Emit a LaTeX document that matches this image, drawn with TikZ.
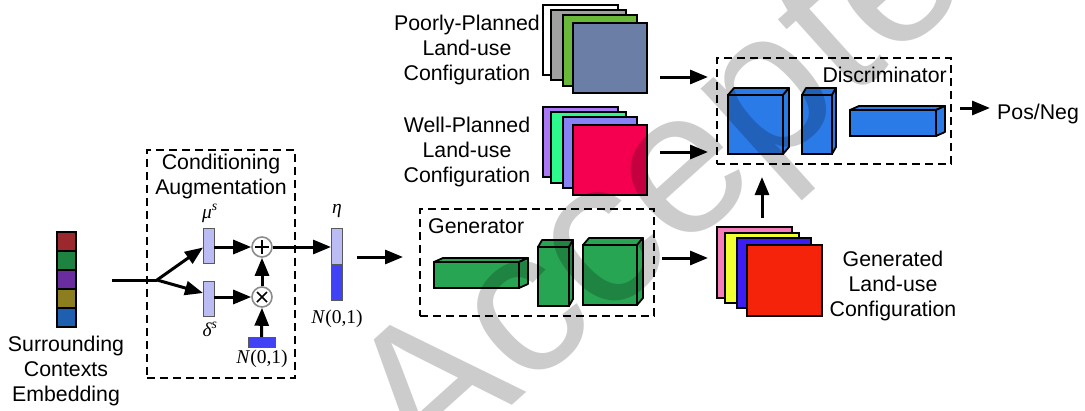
\documentclass[tikz,border=0pt]{standalone}
\usepackage{fontspec}
\setmainfont{Liberation Sans}
\newfontfamily\serifit{Liberation Serif}
\usetikzlibrary{arrows.meta}
\definecolor{eR}{HTML}{9B282D}
\definecolor{eG}{HTML}{1E8241}
\definecolor{eP}{HTML}{692DA0}
\definecolor{eO}{HTML}{8C7D1E}
\definecolor{eB}{HTML}{1E5FAF}
\definecolor{lav}{HTML}{BCBCF4}
\definecolor{nblue}{HTML}{4141F5}
\definecolor{pGray}{HTML}{A0A0A0}
\definecolor{pGreen}{HTML}{6AB83A}
\definecolor{pSlate}{HTML}{6B7EA6}
\definecolor{wPurple}{HTML}{AA78F5}
\definecolor{wGreen}{HTML}{2DFA8C}
\definecolor{wPeri}{HTML}{8782F5}
\definecolor{wRed}{HTML}{F50050}
\definecolor{gPink}{HTML}{F57DB9}
\definecolor{gYellow}{HTML}{F0FF32}
\definecolor{gBlue}{HTML}{3C1EF5}
\definecolor{gRed}{HTML}{F5230A}
\definecolor{genG}{HTML}{27A552}
\definecolor{disB}{HTML}{2A7AE8}
\newcommand\rectnode[6]{\node[#6, rectangle, inner sep=0pt, outer sep=0pt, minimum width={(#4-#2)*1pt}, minimum height={(#5-#3)*1pt}] (#1) at ({(#2+#4)/2},{(#3+#5)/2}) {};}
\newcommand\cuboidnode[8]{%
  \rectnode{#1}{#2}{#3}{#4}{#5}{draw, line width=1.8pt, fill=#8}
  \draw[line width=1.8pt, fill=#8, line join=round] (#1.north west) -- ++(#6,#7) -- ([shift={(#6,#7)}]#1.north east) -- (#1.north east) -- cycle;
  \draw[line width=1.8pt, fill=#8, line join=round] (#1.north east) -- ++(#6,#7) -- ([shift={(#6,#7)}]#1.south east) -- (#1.south east) -- cycle;}
\begin{document}
\begin{tikzpicture}[x=1pt,y=-1pt,
  lbl/.style={font=\fontsize{21.3}{25}\selectfont, align=center, inner sep=0pt},
  mth/.style={font=\fontsize{19.5}{22}\selectfont\serifit\itshape, inner sep=0pt},
  arr/.style={line width=3pt, -{Triangle[length=18pt,width=14pt]}},
  dbox/.style={draw, line width=1.8pt, dash pattern=on 8pt off 5pt},
  sqr/.style={draw, line width=1.8pt},
  thinbar/.style={draw=black!65, line width=1pt},
  op/.style={circle, draw=black!45, fill=white, line width=1.6pt, minimum size=20pt, inner sep=0pt}]
\useasboundingbox (0,0) rectangle (1085,410);
\clip (0,0) rectangle (1085,410);
\fill[white] (0,0) rectangle (1085,410);

% embedding column
\rectnode{e1}{57}{232}{76}{251}{draw, line width=1.5pt, fill=eR}
\rectnode{e2}{57}{251}{76}{270}{draw, line width=1.5pt, fill=eG}
\rectnode{e3}{57}{270}{76}{289}{draw, line width=1.5pt, fill=eP}
\rectnode{e4}{57}{289}{76}{308}{draw, line width=1.5pt, fill=eO}
\rectnode{e5}{57}{308}{76}{327}{draw, line width=1.5pt, fill=eB}
\node[lbl, anchor=north] (emb) at (66,335.5) {Surrounding\\Contexts\\Embedding};

% conditioning augmentation
\rectnode{ca}{147}{150}{295}{378}{dbox}
\node[lbl, anchor=north] (catxt) at (221,153.8) {Conditioning\\Augmentation};
\rectnode{mu}{203}{228}{214}{263}{thinbar, fill=lav}
\rectnode{de}{203}{281}{214}{316}{thinbar, fill=lav}
\node[mth, anchor=base] (mulbl) at (210,218) {μ\textsuperscript{s}};
\node[mth, anchor=base] (delbl) at (210,336) {δ\textsuperscript{s}};
\node[op] (plus) at (262,247) {};
\node[op] (times) at (262,297) {};
\draw[line width=1.6pt] ([xshift=-7pt]plus.center) -- ([xshift=7pt]plus.center) ([yshift=-7pt]plus.center) -- ([yshift=7pt]plus.center);
\draw[line width=1.6pt] ([shift={(-5,-5)}]times.center) -- ([shift={(5,5)}]times.center) ([shift={(-5,5)}]times.center) -- ([shift={(5,-5)}]times.center);
\rectnode{nb}{248}{337}{275}{347}{thinbar, fill=nblue}
\node[mth, anchor=base] (nlbl) at (262,363) {N\textup{(0,1)}};

\coordinate (in) at (112,280);
\coordinate (br) at (157,280);
\draw[line width=3pt] (in) -- (br);
\draw[arr] (br) -- ([yshift=-2pt]mu.west);
\draw[arr] (br) -- ([yshift=5.5pt]de.west);
\draw[arr] (mu.east |- plus.west) -- (plus.west);
\draw[arr] (de.east |- times.west) -- (times.west);
\draw[arr] (times.north) -- (plus.south);
\draw[arr] (nb.north) -- (times.south);

% eta
\rectnode{etaT}{331}{228}{342}{264}{thinbar, fill=lav}
\rectnode{etaB}{331}{264}{342}{300}{thinbar, fill=nblue}
\draw[arr] (plus.east) -- (etaT.west |- plus.east);
\node[mth, anchor=base] (etalbl) at (337,213) {η};
\node[mth, anchor=base] (etan) at (337,323) {N\textup{(0,1)}};

% generator
\rectnode{gen}{420}{209}{654}{316}{dbox}
\node[lbl, anchor=base west] (gentxt) at (428,233) {Generator};
\cuboidnode{g1}{434}{262}{519}{288}{9}{-4}{genG}
\cuboidnode{g2}{538}{247}{569}{306}{4}{-7}{genG}
\cuboidnode{g3}{583}{245}{637}{305}{6}{-7}{genG}
\coordinate (a1s) at (357,257);
\coordinate (a1e) at (403,257);
\draw[arr] (a1s) -- (a1e);

% poorly planned stack
\rectnode{p1}{543}{5}{618}{75}{sqr, fill=white}
\rectnode{p2}{551}{10}{626}{80}{sqr, fill=pGray}
\rectnode{p3}{563}{15}{637}{86}{sqr, fill=pGreen}
\rectnode{p4}{573}{23}{647}{93}{sqr, fill=pSlate}
\node[lbl, anchor=north] (ptxt) at (467,14.5) {Poorly-Planned\\Land-use\\Configuration};

% well planned stack
\rectnode{w1}{543}{107}{618}{177}{sqr, fill=wPurple}
\rectnode{w2}{551}{112}{626}{183}{sqr, fill=wGreen}
\rectnode{w3}{563}{117}{637}{188}{sqr, fill=wPeri}
\rectnode{w4}{573}{125}{647}{195}{sqr, fill=wRed}
\node[lbl, anchor=north] (wtxt) at (467,116.5) {Well-Planned\\Land-use\\Configuration};

% generated stack
\rectnode{q1}{717}{227}{792}{298}{sqr, fill=gPink}
\rectnode{q2}{725}{233}{799}{303}{sqr, fill=gYellow}
\rectnode{q3}{737}{238}{811}{308}{sqr, fill=gBlue}
\rectnode{q4}{747}{245}{822}{316}{sqr, fill=gRed}
\node[lbl, anchor=north] (qtxt) at (893,250.5) {Generated\\Land-use\\Configuration};

% discriminator
\rectnode{dis}{717}{58}{951}{164}{dbox}
\node[lbl, anchor=base east] (distxt) at (947,82) {Discriminator};
\cuboidnode{d1}{728}{95}{783}{154}{6}{-7}{disB}
\cuboidnode{d2}{802}{95}{832}{154}{4}{-7}{disB}
\cuboidnode{d3}{850}{110}{936}{136}{9}{-4}{disB}
\node[lbl, anchor=base west] (posneg) at (997,119) {Pos/Neg};

\coordinate (b1s) at (662,258); \coordinate (b1e) at (708,258);
\coordinate (b2s) at (660,77);  \coordinate (b2e) at (708,77);
\coordinate (b3s) at (660,152); \coordinate (b3e) at (708,152);
\coordinate (b4s) at (762,218); \coordinate (b4e) at (762,177);
\coordinate (b5s) at (960,108); \coordinate (b5e) at (990,108);
\draw[arr] (b1s) -- (b1e);
\draw[arr] (b2s) -- (b2e);
\draw[arr] (b3s) -- (b3e);
\draw[arr] (b4s) -- (b4e);
\draw[arr] (b5s) -- (b5e);

% watermark
\node[rotate=42, anchor=base west, text=black, text opacity=0.2, inner sep=0pt, font=\fontsize{205}{205}\selectfont] (wm) at (425,484) {Accepted};
\end{tikzpicture}
\end{document}
